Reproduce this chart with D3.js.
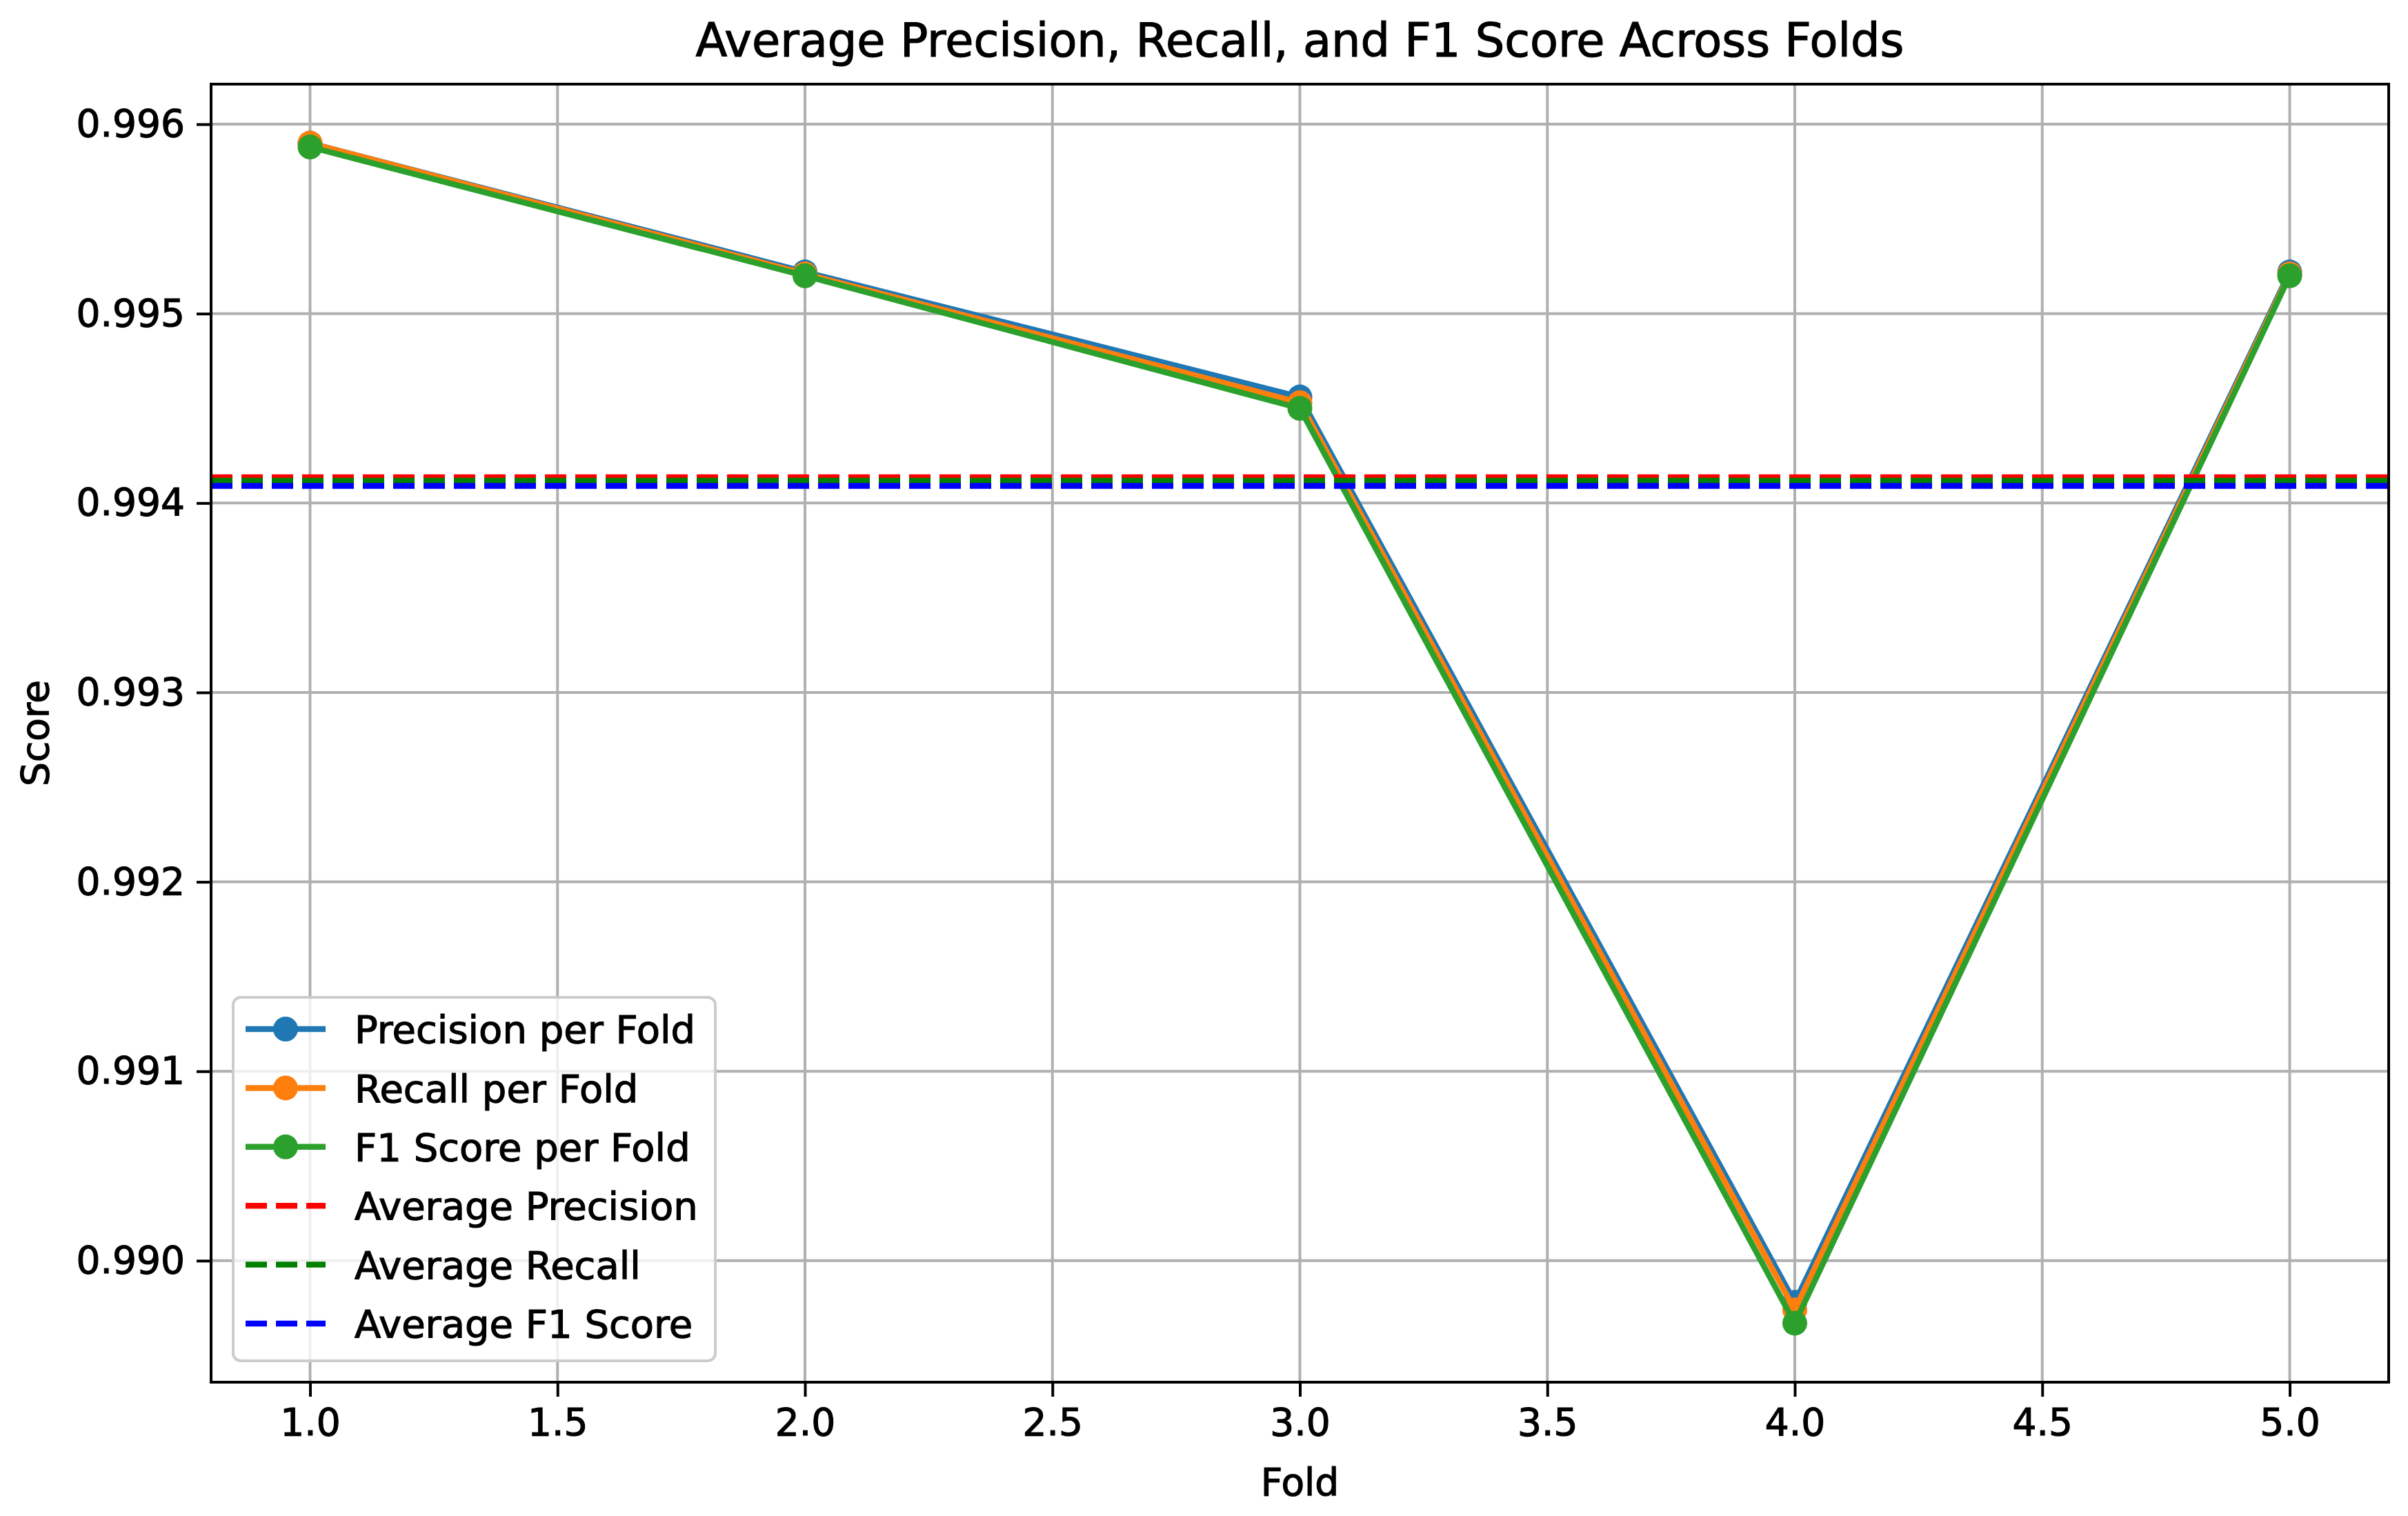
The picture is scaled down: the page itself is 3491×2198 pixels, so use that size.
<!DOCTYPE html>
<html>
<head>
<meta charset="utf-8">
<script src="https://cdn.jsdelivr.net/npm/d3@7"></script>
<style>
  html, body { margin: 0; padding: 0; background: #ffffff; }
  svg { display: block; }
  text { font-family: "DejaVu Sans", sans-serif; fill: #000; stroke: #000; stroke-width: 1.2px; }
</style>
</head>
<body>
<svg id="chart" width="3491" height="2198"></svg>
<script>
// ---- Data ----
const folds = [1, 2, 3, 4, 5];
const precisionPerFold = [0.99590, 0.99522, 0.99456, 0.98978, 0.99522];
const recallPerFold    = [0.99590, 0.99521, 0.99453, 0.98974, 0.99521];
const f1PerFold        = [0.99588, 0.99520, 0.99450, 0.98967, 0.99520];
const xTickValues = [1.0, 1.5, 2.0, 2.5, 3.0, 3.5, 4.0, 4.5, 5.0];
const yTickValues = [0.990, 0.991, 0.992, 0.993, 0.994, 0.995, 0.996];
const titleText = "Average Precision, Recall, and F1 Score Across Folds";
const xLabelText = "Fold";
const yLabelText = "Score";

const avgPrecision = d3.mean(precisionPerFold);
const avgRecall = d3.mean(recallPerFold);
const avgF1 = d3.mean(f1PerFold);

const seriesLines = [
  { name: "Precision per Fold", values: precisionPerFold, color: "#1f77b4" },
  { name: "Recall per Fold",    values: recallPerFold,    color: "#ff7f0e" },
  { name: "F1 Score per Fold",  values: f1PerFold,        color: "#2ca02c" }
];
const avgLines = [
  { name: "Average Precision", value: avgPrecision, color: "#ff0000" },
  { name: "Average Recall",    value: avgRecall,    color: "#008000" },
  { name: "Average F1 Score",  value: avgF1,        color: "#0000ff" }
];

// ---- Layout ----
const svg = d3.select("#chart");
const plot = { left: 306, right: 3463, top: 122, bottom: 2004 };
const FS = 55;
const LFS = 56;

// matplotlib-like 5% margins
const xExt = d3.extent(folds);
const xPad = (xExt[1] - xExt[0]) * 0.05;
const allVals = precisionPerFold.concat(recallPerFold, f1PerFold);
const yExt = d3.extent(allVals);
const yPad = (yExt[1] - yExt[0]) * 0.05;

const x = d3.scaleLinear().domain([xExt[0] - xPad, xExt[1] + xPad]).range([plot.left, plot.right]);
const y = d3.scaleLinear().domain([yExt[0] - yPad, yExt[1] + yPad]).range([plot.bottom, plot.top]);

svg.append("rect").attr("width", 3491).attr("height", 2198).attr("fill", "#fff");

// Grid
const grid = svg.append("g");
grid.selectAll("line.gx").data(xTickValues).join("line")
  .attr("x1", d => x(d)).attr("x2", d => x(d))
  .attr("y1", plot.top).attr("y2", plot.bottom)
  .attr("stroke", "#b0b0b0").attr("stroke-width", 4);
grid.selectAll("line.gy").data(yTickValues).join("line")
  .attr("y1", d => y(d)).attr("y2", d => y(d))
  .attr("x1", plot.left).attr("x2", plot.right)
  .attr("stroke", "#b0b0b0").attr("stroke-width", 4);

// Axes
const xAxis = d3.axisBottom(x).tickValues(xTickValues).tickFormat(d3.format(".1f"))
  .tickSizeInner(21).tickSizeOuter(0).tickPadding(17);
const yAxis = d3.axisLeft(y).tickValues(yTickValues).tickFormat(d3.format(".3f"))
  .tickSizeInner(21).tickSizeOuter(0).tickPadding(17);

const gx = svg.append("g").attr("transform", `translate(0,${plot.bottom})`).call(xAxis);
const gy = svg.append("g").attr("transform", `translate(${plot.left},0)`).call(yAxis);
[gx, gy].forEach(g => {
  g.select(".domain").remove();
  g.selectAll(".tick line").attr("stroke", "#000").attr("stroke-width", 4);
  g.selectAll(".tick text").attr("font-size", FS).attr("font-family", "DejaVu Sans").attr("fill", "#000");
});

// Series lines with markers
const lineGen = d3.line().x((d, i) => x(folds[i])).y(d => y(d));
svg.append("clipPath").attr("id", "clip").append("rect")
  .attr("x", plot.left).attr("y", plot.top)
  .attr("width", plot.right - plot.left).attr("height", plot.bottom - plot.top);
const dataG = svg.append("g").attr("clip-path", "url(#clip)");

seriesLines.forEach(s => {
  const g = dataG.append("g");
  g.append("path").datum(s.values).attr("d", lineGen)
    .attr("fill", "none").attr("stroke", s.color).attr("stroke-width", 8.5)
    .attr("stroke-linejoin", "round").attr("stroke-linecap", "square");
  g.selectAll("circle").data(s.values).join("circle")
    .attr("cx", (d, i) => x(folds[i])).attr("cy", d => y(d))
    .attr("r", 18).attr("fill", s.color);
});

// Average dashed lines
avgLines.forEach(a => {
  dataG.append("line")
    .attr("x1", plot.left).attr("x2", plot.right)
    .attr("y1", y(a.value)).attr("y2", y(a.value))
    .attr("stroke", a.color).attr("stroke-width", 8.5)
    .attr("stroke-dasharray", "31,13");
});

// Spines
svg.append("rect").attr("x", plot.left).attr("y", plot.top)
  .attr("width", plot.right - plot.left).attr("height", plot.bottom - plot.top)
  .attr("fill", "none").attr("stroke", "#000").attr("stroke-width", 4);

// Title and labels
svg.append("text").attr("x", (plot.left + plot.right) / 2).attr("y", 82)
  .attr("text-anchor", "middle").attr("font-size", 67).text(titleText);
svg.append("text").attr("x", (plot.left + plot.right) / 2).attr("y", 2168)
  .attr("text-anchor", "middle").attr("font-size", FS).text(xLabelText);
svg.append("text").attr("transform", `translate(70,${(plot.top + plot.bottom) / 2}) rotate(-90)`)
  .attr("text-anchor", "middle").attr("font-size", FS).text(yLabelText);

// Legend
const legendEntries = seriesLines.map(s => ({ name: s.name, color: s.color, type: "marker" }))
  .concat(avgLines.map(a => ({ name: a.name, color: a.color, type: "dash" })));
const leg = svg.append("g");
leg.append("rect").attr("x", 338).attr("y", 1446).attr("width", 699).attr("height", 527)
  .attr("rx", 11).attr("ry", 11)
  .attr("fill", "#ffffff").attr("fill-opacity", 0.8)
  .attr("stroke", "#cccccc").attr("stroke-width", 4);
const rowY = d3.scaleLinear().domain([0, legendEntries.length - 1]).range([1492, 1919]);
legendEntries.forEach((e, i) => {
  const cy = rowY(i);
  if (e.type === "marker") {
    leg.append("line").attr("x1", 356).attr("x2", 472).attr("y1", cy).attr("y2", cy)
      .attr("stroke", e.color).attr("stroke-width", 8.5);
    leg.append("circle").attr("cx", 414).attr("cy", cy).attr("r", 18).attr("fill", e.color);
  } else {
    leg.append("line").attr("x1", 356).attr("x2", 472).attr("y1", cy).attr("y2", cy)
      .attr("stroke", e.color).attr("stroke-width", 8.5).attr("stroke-dasharray", "31,13");
  }
  leg.append("text").attr("x", 514).attr("y", cy).attr("dy", "0.36em")
    .attr("font-size", LFS).text(e.name);
});
</script>
</body>
</html>
